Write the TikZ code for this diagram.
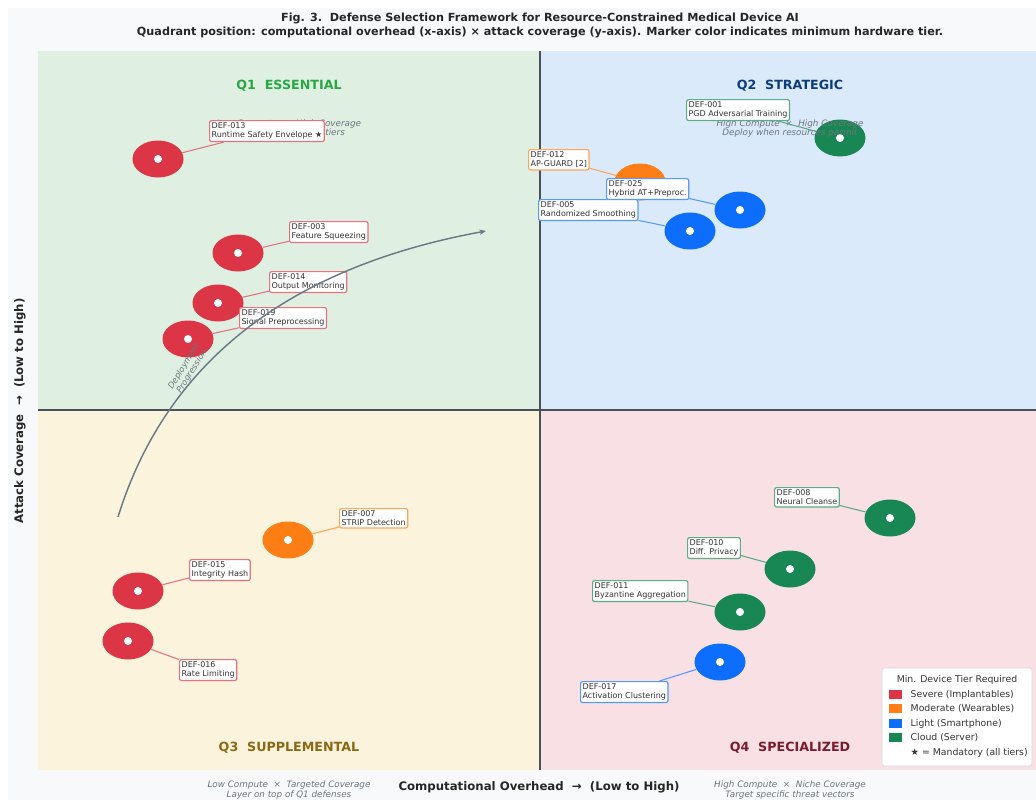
\documentclass[tikz,border=0pt]{standalone}
\usepackage{fontspec}
\setmainfont{DejaVu Sans}
\usetikzlibrary{shapes.geometric,arrows.meta}
\definecolor{sev}{HTML}{DC3545}
\definecolor{mod}{HTML}{FD7E14}
\definecolor{lig}{HTML}{0D6EFD}
\definecolor{clo}{HTML}{198754}
\definecolor{panelbg}{HTML}{F8F9FA}
\definecolor{qonebg}{HTML}{DFF0E3}
\definecolor{qtwobg}{HTML}{DBEAFA}
\definecolor{qthreebg}{HTML}{FCF3DC}
\definecolor{qfourbg}{HTML}{F8E0E4}
\definecolor{qonefg}{HTML}{28A745}
\definecolor{qtwofg}{HTML}{0B3D7E}
\definecolor{qthreefg}{HTML}{8B6914}
\definecolor{qfourfg}{HTML}{7A1C2C}
\definecolor{notegray}{HTML}{6C757D}
\definecolor{midgray}{HTML}{4A5058}
\definecolor{arrowgray}{HTML}{6C7A86}
\tikzset{
  mk/.style={ellipse,fill=#1,minimum width=38.25pt,minimum height=27.75pt,inner sep=0pt},
  lbl/.style={draw=#1!70!white,fill=white,rounded corners=1.5pt,line width=0.9pt,align=left,
    font=\fontsize{6}{7}\selectfont,text=black!80,inner sep=1.5pt,anchor=north west},
  lnk/.style={draw=#1!70!white,line width=0.8pt},
  qtitle/.style={font=\fontsize{9.5}{11}\bfseries,text=#1},
  qnote/.style={font=\fontsize{6.6}{7.2}\itshape,text=notegray,align=center},
  legsq/.style={fill=#1},
  legtxt/.style={anchor=west,font=\fontsize{7}{8}\selectfont,text=black!80}
}
\begin{document}
\begin{tikzpicture}[x=0.75pt,y=-0.75pt]
\useasboundingbox (0,0) rectangle (1036,800);
\fill[panelbg] (8,8) rectangle (1036,800);
% title
\node[font=\fontsize{8.4}{9.5}\bfseries,text=black!85] (title) at (540,18) {Fig. 3.\ \ Defense Selection Framework for Resource-Constrained Medical Device AI};
\node[font=\fontsize{8.4}{9.5}\bfseries,text=black!85] (subtitle) at (540,32) {Quadrant position: computational overhead (x-axis) × attack coverage (y-axis). Marker color indicates minimum hardware tier.};
% quadrants
\fill[qonebg] (38,51) rectangle (540,410);
\fill[qtwobg] (540,51) rectangle (1036,410);
\fill[qthreebg] (38,410) rectangle (540,770);
\fill[qfourbg] (540,410) rectangle (1036,770);
\draw[midgray,line width=1.4pt] (540,51) -- (540,770);
\draw[midgray,line width=1.4pt] (38,410) -- (1036,410);
\node[qtitle=qonefg] (q1) at (289,86) {Q1\hspace{0.7em}ESSENTIAL};
\node[qtitle=qtwofg] (q2) at (790,86) {Q2\hspace{0.7em}STRATEGIC};
\node[qtitle=qthreefg] (q3) at (289,748) {Q3\hspace{0.7em}SUPPLEMENTAL};
\node[qtitle=qfourfg] (q4) at (790,748) {Q4\hspace{0.7em}SPECIALIZED};
% axes
\node[font=\fontsize{8.8}{10}\bfseries,text=black!85] (xlab) at (539,787) {Computational Overhead\ \ →\ \ (Low to High)};
\node[font=\fontsize{8.8}{10}\bfseries,text=black!85,rotate=90] (ylab) at (20,411) {Attack Coverage\ \ →\ \ (Low to High)};
\node[qnote] (n3) at (289,790) {Low Compute\ \ ×\ \ Targeted Coverage\\Layer on top of Q1 defenses};
\node[qnote] (n4) at (790,790) {High Compute\ \ ×\ \ Niche Coverage\\Target specific threat vectors};
% markers
\node[mk=sev] (d13) at (158,159) {};
\node[mk=sev] (d03) at (238,253) {};
\node[mk=sev] (d14) at (218,303) {};
\node[mk=sev] (d19) at (188,339) {};
\node[mk=mod] (d12) at (640,182) {};
\node[mk=clo] (d01) at (840,138) {};
\node[mk=lig] (d25) at (740,210) {};
\node[mk=lig] (d05) at (690,231) {};
\node[mk=mod] (d07) at (288,540) {};
\node[mk=sev] (d15) at (138,591) {};
\node[mk=sev] (d16) at (128,641) {};
\node[mk=clo] (d08) at (890,518) {};
\node[mk=clo] (d10) at (790,569) {};
\node[mk=clo] (d11) at (740,612) {};
\node[mk=lig] (d17) at (720,662) {};
\foreach \m in {d13,d03,d14,d19,d12,d01,d25,d05,d07,d15,d16,d08,d10,d11,d17}
  \fill[white] (\m) circle (3pt);
% quadrant notes
\node[qnote] (n1) at (289,128.5) {Low Compute\ \ ×\ \ High Coverage\\Deploy on all device tiers};
\node[qnote] (n2) at (790,128.5) {High Compute\ \ ×\ \ High Coverage\\Deploy when resources permit};
% labels
\node[lbl=sev] (l13) at (209,120) {DEF-013\\Runtime Safety Envelope ★};
\node[lbl=sev] (l03) at (289,221) {DEF-003\\Feature Squeezing};
\node[lbl=sev] (l14) at (269,271) {DEF-014\\Output Monitoring};
\node[lbl=sev] (l19) at (239,307) {DEF-019\\Signal Preprocessing};
\node[lbl=mod] (l12) at (528,149) {DEF-012\\AP-GUARD [2]};
\node[lbl=clo] (l01) at (686,99) {DEF-001\\PGD Adversarial Training};
\node[lbl=lig] (l25) at (606,178) {DEF-025\\Hybrid AT+Preproc.};
\node[lbl=lig] (l05) at (538,199) {DEF-005\\Randomized Smoothing};
\node[lbl=mod] (l07) at (339,508) {DEF-007\\STRIP Detection};
\node[lbl=sev] (l15) at (189,559) {DEF-015\\Integrity Hash};
\node[lbl=sev] (l16) at (179,659) {DEF-016\\Rate Limiting};
\node[lbl=clo] (l08) at (774,487) {DEF-008\\Neural Cleanse};
\node[lbl=clo] (l10) at (687,537) {DEF-010\\Diff. Privacy};
\node[lbl=clo] (l11) at (592,580) {DEF-011\\Byzantine Aggregation};
\node[lbl=lig] (l17) at (580,681) {DEF-017\\Activation Clustering};
\draw[lnk=sev] (l13) -- (d13);
\draw[lnk=sev] (l03) -- (d03);
\draw[lnk=sev] (l14) -- (d14);
\draw[lnk=sev] (l19) -- (d19);
\draw[lnk=mod] (l12) -- (d12);
\draw[lnk=clo] (l01) -- (d01);
\draw[lnk=lig] (l25) -- (d25);
\draw[lnk=lig] (l05) -- (d05);
\draw[lnk=mod] (l07) -- (d07);
\draw[lnk=sev] (l15) -- (d15);
\draw[lnk=sev] (l16) -- (d16);
\draw[lnk=clo] (l08) -- (d08);
\draw[lnk=clo] (l10) -- (d10);
\draw[lnk=clo] (l11) -- (d11);
\draw[lnk=lig] (l17) -- (d17);
% deployment progression
\coordinate (pstart) at (118,517);
\coordinate (pend) at (486,231);
\draw[arrowgray,line width=1.1pt,-{Stealth[length=5pt,width=4pt]}] (pstart) .. controls (166,362) and (289,267) .. (pend);
\node[font=\fontsize{6.3}{7}\itshape,text=notegray,align=center,rotate=58] (prog) at (188,369) {Deployment\\Progression};
% legend
\draw[black!15,fill=white,rounded corners=2pt] (882,668) rectangle (1032,766);
\node[font=\fontsize{7}{8}\selectfont,text=black!80] (legtitle) at (957,680) {Min. Device Tier Required};
\fill[legsq=sev] (889,690) rectangle (902,699);
\fill[legsq=mod] (889,704) rectangle (902,713);
\fill[legsq=lig] (889,719) rectangle (902,728);
\fill[legsq=clo] (889,733) rectangle (902,742);
\node[legtxt] (lsev) at (906,694.5) {Severe (Implantables)};
\node[legtxt] (lmod) at (906,709) {Moderate (Wearables)};
\node[legtxt] (llig) at (906,723.5) {Light (Smartphone)};
\node[legtxt] (lclo) at (906,738) {Cloud (Server)};
\node[legtxt] (lstar) at (906,752.5) {★ = Mandatory (all tiers)};
\end{tikzpicture}
\end{document}
